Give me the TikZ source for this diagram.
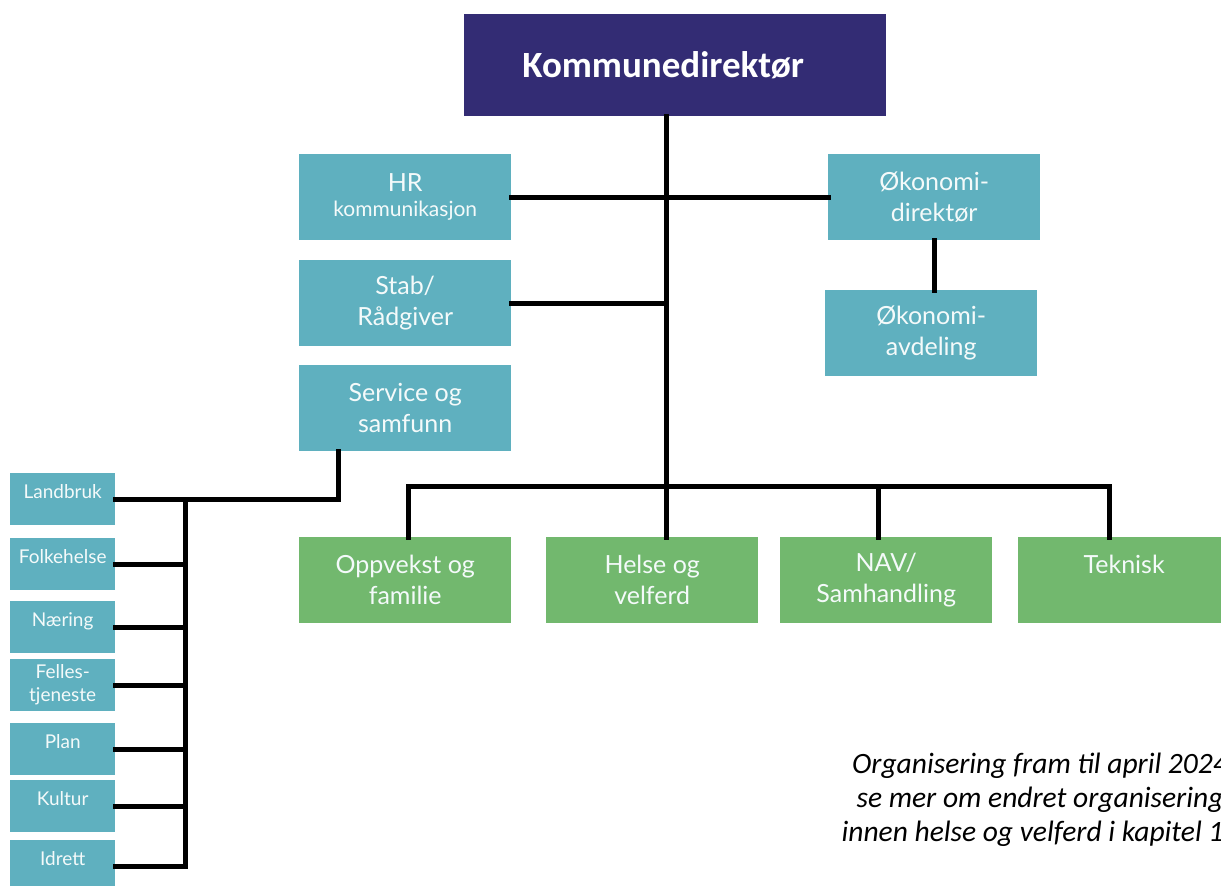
\documentclass[tikz,border=0pt]{standalone}
\usepackage{fontspec}
\newfontfamily\boxfont{Lato}
\newfontfamily\headfont{Carlito}
\definecolor{navy}{HTML}{332C74}
\definecolor{tealbox}{HTML}{5FB0BF}
\definecolor{greenbox}{HTML}{72B86E}
\definecolor{boxtext}{HTML}{F4FAFA}
\tikzset{
  unit/.style={rectangle, anchor=north west, fill=tealbox, text=boxtext,
    minimum width=212pt, minimum height=86pt, inner sep=0pt, align=center,
    font=\boxfont\fontsize{25}{31}\selectfont},
  area/.style={unit, fill=greenbox},
  small/.style={unit, minimum width=105pt, minimum height=52pt,
    font=\boxfont\fontsize{19}{23}\selectfont},
  conn/.style={line width=5pt, line join=miter, line cap=rect},
}
% single-line labels in the small boxes sit a little above the middle
\newcommand\highlabel[1]{#1\\[-8pt]\mbox{}}
\begin{document}
\begin{tikzpicture}[x=1pt, y=-1pt]
\useasboundingbox (0,0) rectangle (1221,886);
\clip (0,0) rectangle (1221,886);

% top level
\node[unit, fill=navy, text=white, minimum width=422pt, minimum height=102pt,
      font=\headfont\bfseries\fontsize{37}{44}\selectfont] (kd) at (464,14)
      {Kommunedirektør\hspace{24pt}};

% staff units
\node[unit] (hr)   at (299,154) {HR\\[-6pt]{\fontsize{21}{24}\selectfont kommunikasjon}};
\node[unit] (stab) at (299,260) {Stab/\\Rådgiver};
\node[unit] (serv) at (299,365) {Service og\\samfunn};
\node[unit] (okd)  at (828,154) {Økonomi-\\direktør};
\node[unit] (oka)  at (825,290) {Økonomi-\\avdeling};

% service areas
\node[area] (opp) at (299,537)  {Oppvekst og\\familie};
\node[area] (hel) at (546,537)  {Helse og\\velferd};
\node[area] (nav) at (780,537)  {NAV/\\Samhandling};
\node[area] (tek) at (1018,537) {Teknisk\\\mbox{}};

% sections under Service og samfunn
\node[small] (lb) at (10,473) {\highlabel{Landbruk}};
\node[small] (fh) at (10,538) {\highlabel{Folkehelse}};
\node[small] (na) at (10,601) {\highlabel{Næring}};
\node[small] (ft) at (10,659) {Felles-\\tjeneste};
\node[small] (pl) at (10,723) {\highlabel{Plan}};
\node[small] (ku) at (10,780) {\highlabel{Kultur}};
\node[small] (id) at (10,840) {\highlabel{Idrett}};

% trunk and branches
\coordinate (tr) at (666,486);
\coordinate (bus) at (185,0);
\draw[conn] (kd.south -| tr) -- (tr |- hel.north);
\draw[conn] (hr.east) -- (okd.west);
\draw[conn] (stab.east) -- (stab.east -| tr);
\draw[conn] (okd.south) -- (okd.south |- oka.north);
\draw[conn] ([xshift=3pt]opp.north) -- ++(0,-51) -| ([xshift=-15pt]tek.north);
\draw[conn] ([xshift=-8pt]nav.north) -- ++(0,-51);

% Service og samfunn to its sections
\draw[conn] ([xshift=-67pt]serv.south) |- (lb.east);
\draw[conn] (lb.east -| bus) -- (id.east -| bus);
\foreach \s in {fh,na,ft,pl,ku,id}
  \draw[conn] (\s.east) -- (\s.east -| bus);

% note, running off the right edge of the page
\node[align=center, font=\headfont\itshape\fontsize{29.5}{34}\selectfont] (note) at (1040,800)
  {Organisering fram til april 2024\\se mer om endret organisering\\innen helse og velferd i kapitel 11};
\end{tikzpicture}
\end{document}
